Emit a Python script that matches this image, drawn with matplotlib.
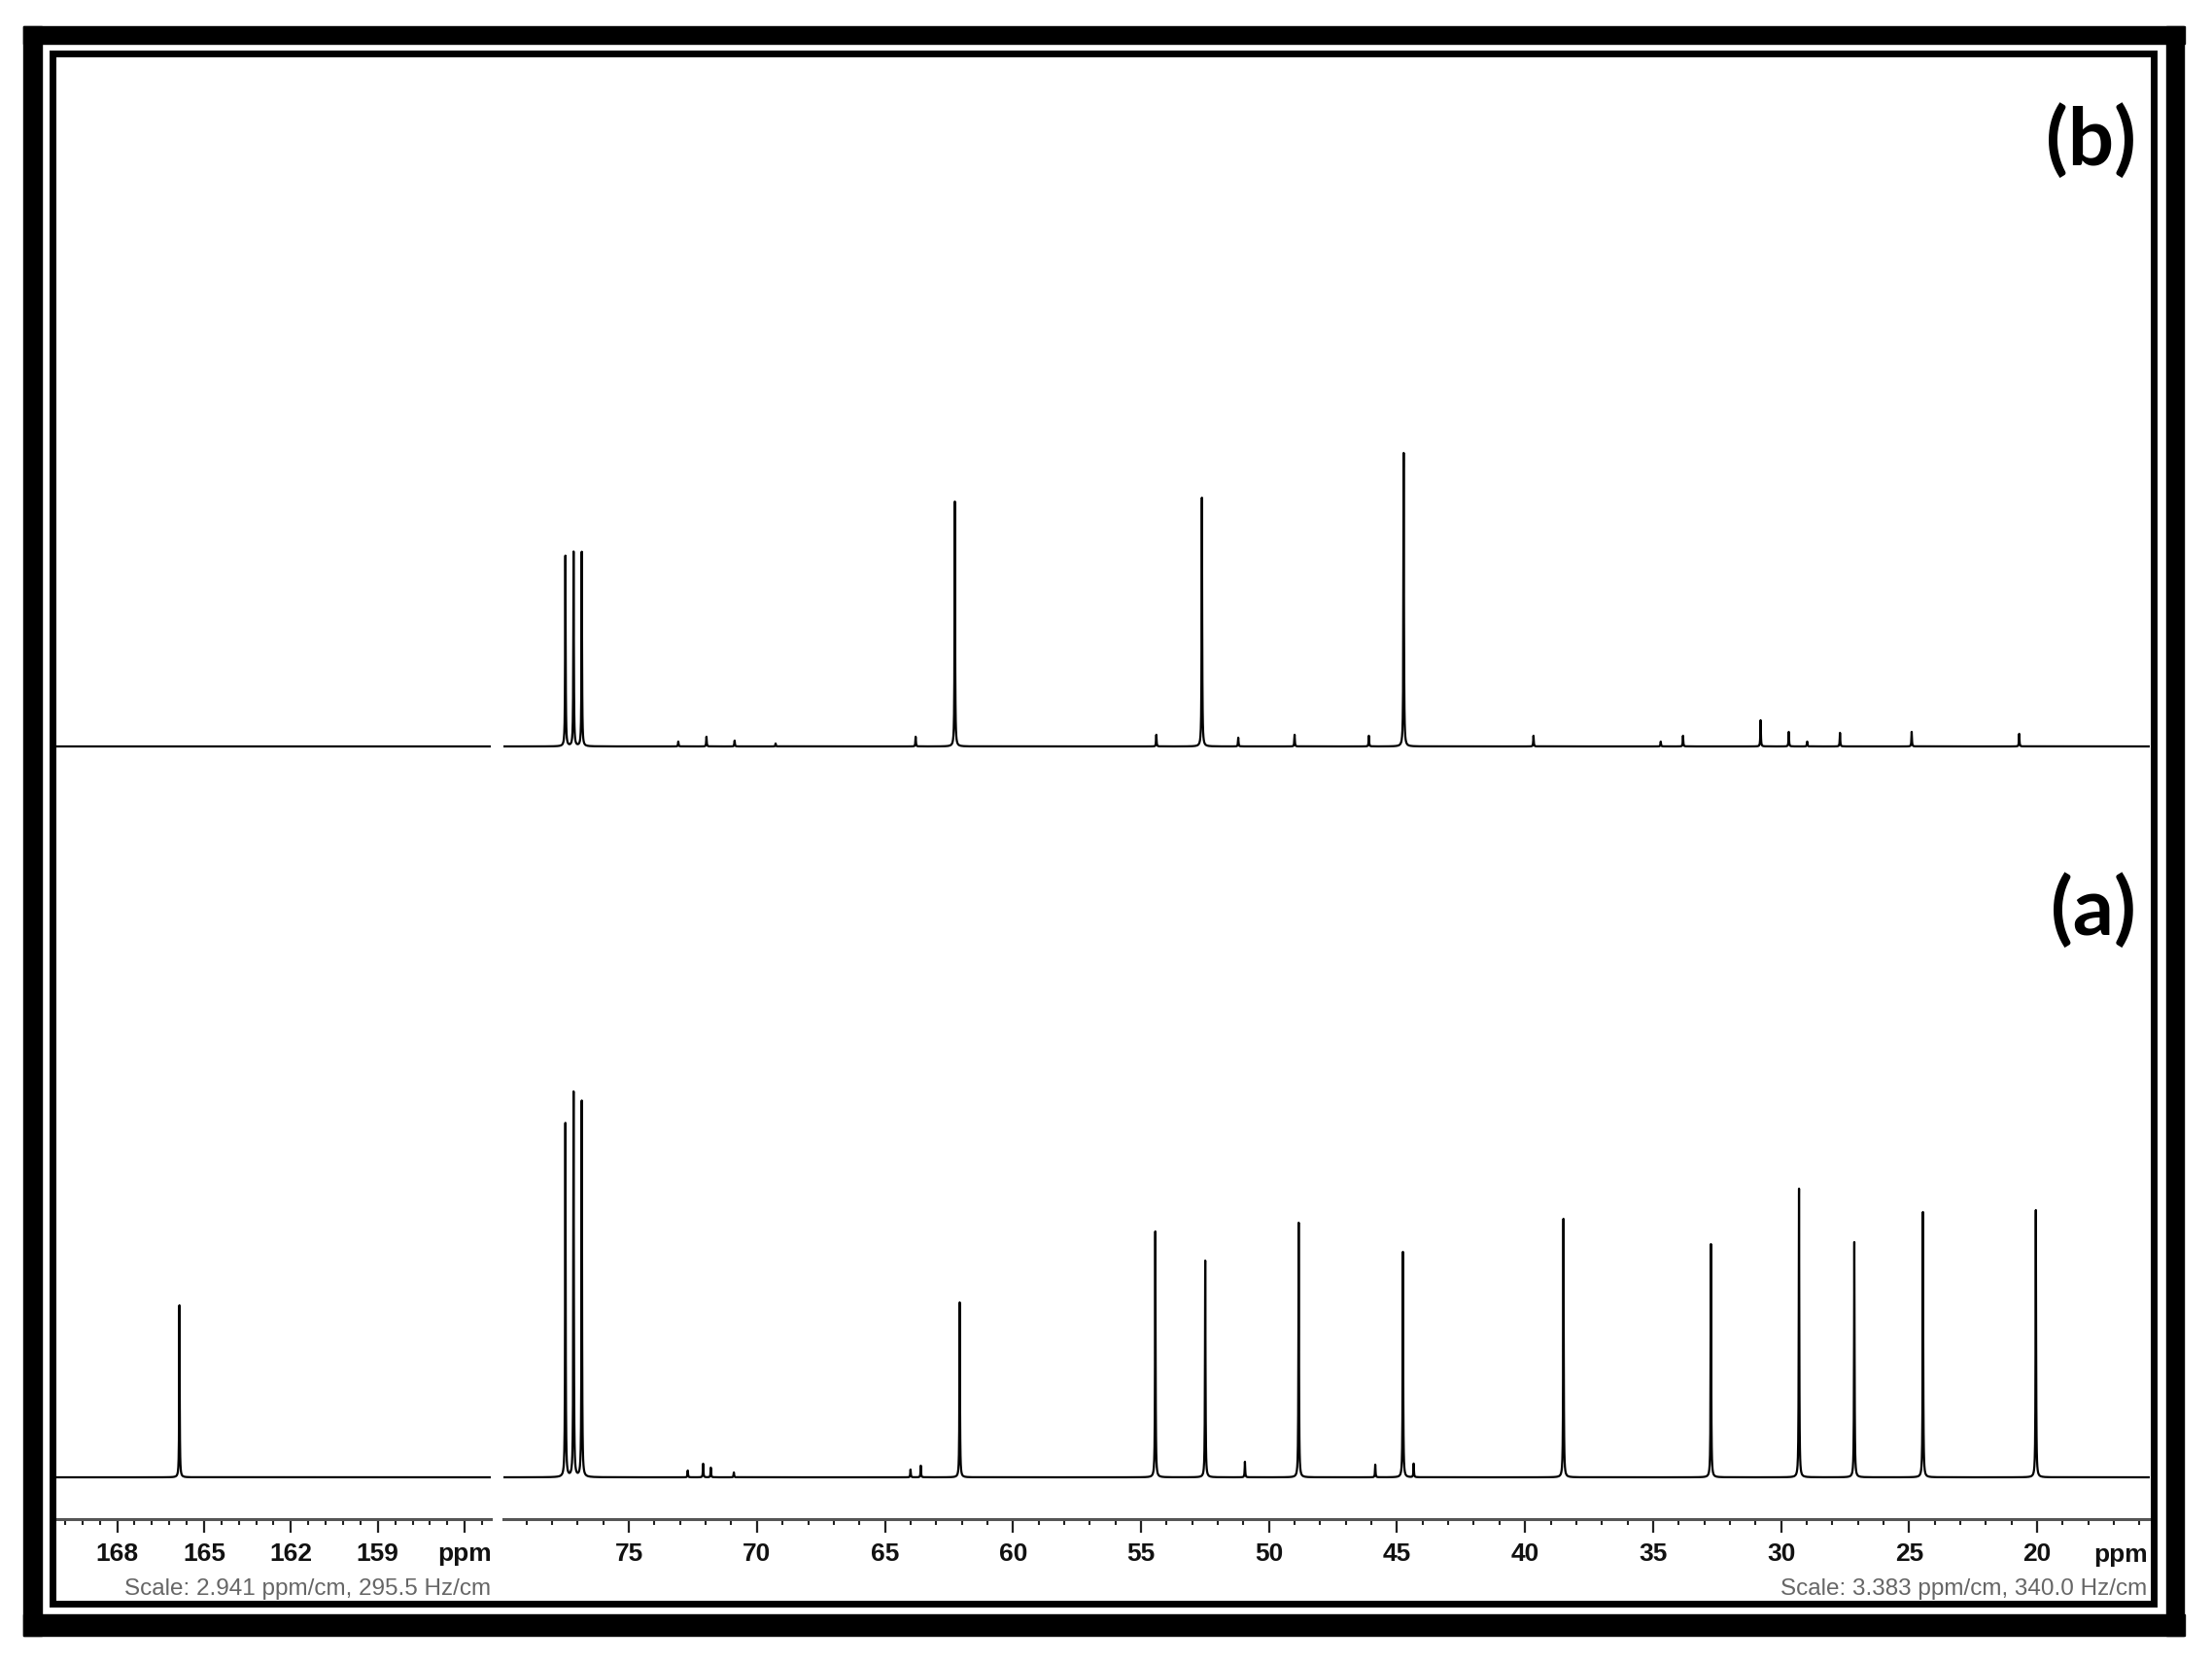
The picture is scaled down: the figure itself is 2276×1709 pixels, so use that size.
import numpy as np
import matplotlib.pyplot as plt
from matplotlib.patches import Rectangle
from matplotlib.ticker import FixedLocator, MultipleLocator

# 13C NMR, two spectra stacked: (b) on top, (a) at the bottom
# peak positions in ppm, heights in pixels above each baseline
a_ppm = [165.85, 77.48, 77.16, 76.84, 72.7, 72.1, 71.8, 70.9, 64.0, 63.6, 62.08,
         54.44, 52.49, 50.94, 48.84, 45.85, 44.77, 44.35, 38.5, 32.74, 29.3,
         27.14, 24.46, 20.05]
a_int = [177, 364, 396, 387, 7, 14, 10, 5, 8, 12, 180,
         253, 223, 16, 262, 13, 232, 14, 266, 240, 297,
         242, 273, 275]

b_ppm = [77.48, 77.16, 76.84, 73.07, 71.97, 70.87, 69.27, 63.8, 62.27, 54.4,
         52.62, 51.2, 49.0, 46.1, 44.74, 39.67, 34.7, 33.83, 30.8, 29.7,
         28.98, 27.7, 24.9, 20.7]
b_int = [196, 200, 200, 5, 10, 6, 3, 10, 252, 12,
         256, 9, 12, 11, 302, 11, 5, 11, 27, 15,
         5, 14, 15, 13]
b_offset = 752

left_range = (170.2, 155.1)
right_range = (79.9, 15.6)
left_major = [168, 165, 162, 159, 156]
left_labels = ["168", "165", "162", "159", "ppm"]
right_major = [75, 70, 65, 60, 55, 50, 45, 40, 35, 30, 25, 20]

scale_left = "Scale: 2.941 ppm/cm, 295.5 Hz/cm"
scale_right = "Scale: 3.383 ppm/cm, 340.0 Hz/cm"

W, H = 2276, 1709
fig = plt.figure(figsize=(W / 100, H / 100), dpi=100)


def px_box(x0, y0, x1, y1):
    return [x0 / W, 1 - y1 / H, (x1 - x0) / W, (y1 - y0) / H]


def lorentz(grid, ppm, inten, w):
    y = np.zeros_like(grid)
    for p, h in zip(ppm, inten):
        y += h * w ** 2 / ((grid - p) ** 2 + w ** 2)
    return y


axis_y = 1563
base_a = 1520
top_y = 55

segments = [
    (55, 505, left_range, 0.6, 0.01),
    (518, 2212, right_range, 1.0, 0.012),
]
axes = []
for x0, x1, rng, minor, w in segments:
    ax = fig.add_axes(px_box(x0, top_y, x1, axis_y))
    ax.patch.set_alpha(0)
    grid = np.arange(min(rng), max(rng), 0.001)
    ya = lorentz(grid, a_ppm, a_int, w)
    yb = lorentz(grid, b_ppm, b_int, w)
    ax.plot(grid, ya, color="black", lw=1.6)
    ax.plot(grid, yb + b_offset, color="black", lw=1.6)
    ax.set_xlim(*rng)
    ax.set_ylim(-(axis_y - base_a), base_a - top_y)
    for s in ["top", "left", "right"]:
        ax.spines[s].set_visible(False)
    ax.spines["bottom"].set_color("#555555")
    ax.spines["bottom"].set_linewidth(2.2)
    ax.set_yticks([])
    ax.xaxis.set_minor_locator(MultipleLocator(minor))
    ax.tick_params(axis="x", which="major", length=10, width=1.6, pad=7,
                   labelsize=19, color="#222222")
    ax.tick_params(axis="x", which="minor", length=4, width=1.5, color="#222222")
    axes.append(ax)

axes[0].xaxis.set_major_locator(FixedLocator(left_major))
axes[0].set_xticklabels(left_labels)
axes[1].xaxis.set_major_locator(FixedLocator(right_major))
for ax in axes:
    for lab in ax.get_xticklabels():
        lab.set_fontfamily("Liberation Sans")
        lab.set_fontweight("bold")
        lab.set_color("#111111")

fig.text(2210 / W, 1 - 1600 / H, "ppm", ha="right", va="center",
         family="Liberation Sans", weight="bold", size=19, color="#111111")

fig.text(505 / W, 1 - 1635 / H, scale_left, ha="right", va="center",
         family="Liberation Sans", size=17.5, color="#666666")
fig.text(2209 / W, 1 - 1635 / H, scale_right, ha="right", va="center",
         family="Liberation Sans", size=17.5, color="#666666")

fig.text(2152 / W, 1 - 145 / H, "(b)", ha="center", va="center",
         family="Lato", weight="bold", size=60)
fig.text(2154 / W, 1 - 937 / H, "(a)", ha="center", va="center",
         family="Lato", weight="bold", size=60)

# double frame around the whole picture
frame = fig.add_axes([0, 0, 1, 1])
frame.set_xlim(0, W)
frame.set_ylim(H, 0)
frame.axis("off")
frame.patch.set_alpha(0)
frame.add_patch(Rectangle((24, 27), 2224, 18, color="black"))
frame.add_patch(Rectangle((24, 1661), 2224, 22, color="black"))
frame.add_patch(Rectangle((24, 27), 19, 1656, color="black"))
frame.add_patch(Rectangle((2229, 27), 18, 1656, color="black"))
frame.add_patch(Rectangle((54, 55), 2162, 1595, fill=False,
                          edgecolor="black", lw=5))

fig.savefig("out.png", dpi=100)
